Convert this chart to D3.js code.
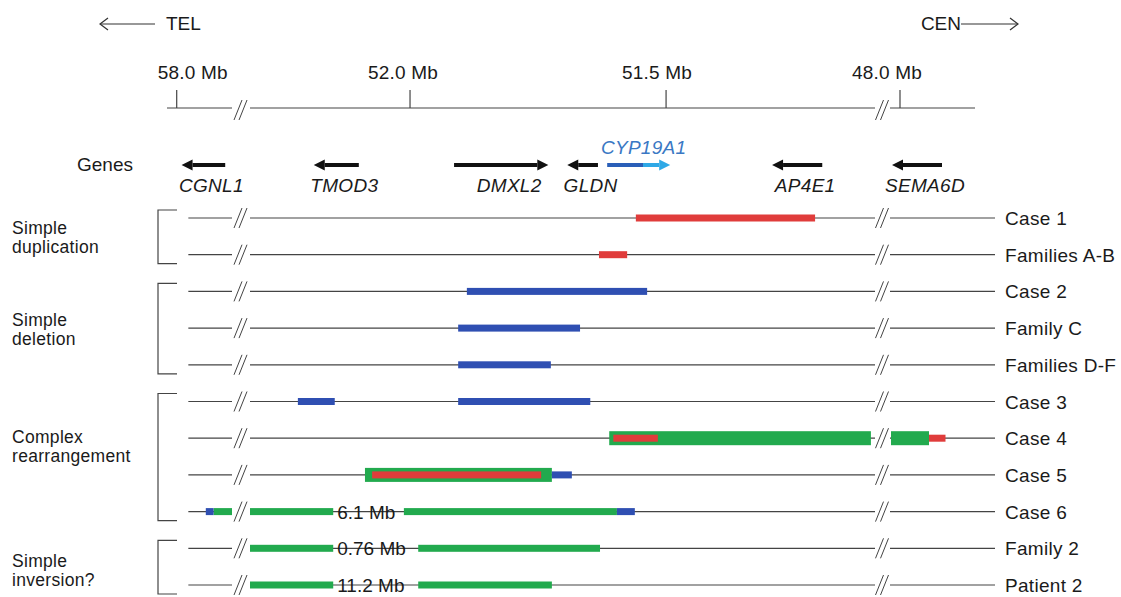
<!DOCTYPE html>
<html lang="en">
<head>
    <meta charset="UTF-8">
    <title>Rearrangements around CYP19A1</title>
    <style>
        body { margin: 0; background: #fff; }
        text { font-family: "Liberation Sans", Arial, sans-serif; fill: #1a1a1a; font-size: 19px; }
    </style>
</head>
<body>

<script src="https://d3js.org/d3.v7.min.js"></script>

<!-- Create a div where the graph will be inserted -->
<div id="my_dataviz"></div>

<script>
    // axis ticks (Mb)
    const tickValues = [58.0, 52.0, 51.5, 48.0];
    const tickLabels = ["58.0 Mb", "52.0 Mb", "51.5 Mb", "48.0 Mb"];

    // genes: tail -> head of the arrow (Mb)
    const geneNames = ["CGNL1", "TMOD3", "DMXL2", "GLDN", "CYP19A1", "AP4E1", "SEMA6D"];
    const geneTail  = [57.50, 52.100, 51.914, 51.633, 51.615, 51.195, 47.58];
    const geneHead  = [57.95, 52.188, 51.730, 51.693, 51.492, 51.293, 48.08];
    const cypSplit = 51.545;

    // rows
    const rowNames = ["Case 1", "Families A-B", "Case 2", "Family C", "Families D-F",
        "Case 3", "Case 4", "Case 5", "Case 6", "Family 2", "Patient 2"];

    const groupLabels = [["Simple", "duplication"], ["Simple", "deletion"],
        ["Complex", "rearrangement"], ["Simple", "inversion?"]];
    const groupFirst = ["Case 1", "Case 2", "Case 3", "Family 2"];
    const groupLast  = ["Families A-B", "Families D-F", "Case 6", "Patient 2"];

    // [row, from, to] in Mb
    const duplications = [
        ["Case 1", 51.559, 51.209],
        ["Families A-B", 51.631, 51.576],
        ["Case 4", 51.603, 51.516],
        ["Case 4", 47.71, 47.545],
        ["Case 5", 52.074, 51.744]
    ];
    const deletions = [
        ["Case 2", 51.889, 51.537],
        ["Family C", 51.906, 51.668],
        ["Families D-F", 51.906, 51.725],
        ["Case 3", 52.219, 52.147],
        ["Case 3", 51.906, 51.648],
        ["Case 5", 51.723, 51.684],
        ["Case 6", 57.70, 57.62],
        ["Case 6", 51.596, 51.561]
    ];
    const inversions = [
        ["Case 4", 51.611, 51.100],
        ["Case 4", 48.09, 47.71],
        ["Case 5", 52.088, 51.723],
        ["Case 6", 57.62, 57.43],
        ["Case 6", 52.3125, 52.150],
        ["Case 6", 52.012, 51.596],
        ["Family 2", 52.3125, 52.150],
        ["Family 2", 51.984, 51.629],
        ["Patient 2", 52.3125, 52.150],
        ["Patient 2", 51.984, 51.723]
    ];
    const sizeRows = ["Case 6", "Family 2", "Patient 2"];
    const sizeLabels = ["6.1 Mb", "0.76 Mb", "11.2 Mb"];

    const width = 1121, height = 597;
    const red = "#e03c3b", blue = "#2f4fb2", green = "#22aa4e";

    const svg = d3.select("#my_dataviz")
      .append("svg")
        .attr("width", width)
        .attr("height", height);

    svg.append("rect").attr("width", width).attr("height", height).attr("fill", "#fff");

    // broken genomic scale: three pieces, with gaps for the // marks
    const x = d3.scaleLinear()
      .domain([58.10, 57.43, 52.3125, 51.092, 48.1, 47.05])
      .range([167, 232, 250, 875, 890, 995]);

    const y = d3.scalePoint()
      .domain(rowNames)
      .range([218, 585]);

    const axisY = 108, geneY = 165;
    const breaksAt = [(x(57.43) + x(52.3125)) / 2, (x(51.092) + x(48.1)) / 2];

    function breakMark(g, cx, cy) {
        [-3, 2].forEach(d => {
            g.append("line")
              .attr("x1", cx + d - 4).attr("y1", cy + 10)
              .attr("x2", cx + d + 4).attr("y2", cy - 10)
              .attr("stroke", "#444").attr("stroke-width", 1);
        });
    }

    // TEL / CEN
    const hdr = svg.append("g");
    hdr.append("line").attr("x1", 100).attr("x2", 155).attr("y1", 24).attr("y2", 24)
      .attr("stroke", "#333").attr("stroke-width", 1.2);
    hdr.append("path").attr("d", "M108,18 L100,24 L108,30").attr("fill", "none")
      .attr("stroke", "#333").attr("stroke-width", 1.2);
    hdr.append("text").attr("x", 166).attr("y", 30).text("TEL");
    hdr.append("text").attr("x", 961).attr("y", 30).attr("text-anchor", "end").text("CEN");
    hdr.append("line").attr("x1", 961).attr("x2", 1018).attr("y1", 24).attr("y2", 24)
      .attr("stroke", "#333").attr("stroke-width", 1.2);
    hdr.append("path").attr("d", "M1010,18 L1018,24 L1010,30").attr("fill", "none")
      .attr("stroke", "#333").attr("stroke-width", 1.2);

    // header axis
    const axisPieces = [[58.10, 57.43], [52.3125, 51.092], [48.1, 47.25]];
    const ax = svg.append("g");
    ax.selectAll("line.piece")
      .data(axisPieces)
      .join("line")
        .attr("class", "piece")
        .attr("x1", d => x(d[0])).attr("x2", d => x(d[1]))
        .attr("y1", axisY).attr("y2", axisY)
        .attr("stroke", "#444").attr("stroke-width", 1.2);
    breaksAt.forEach(b => breakMark(ax, b, axisY + 2));
    ax.selectAll("line.tick")
      .data(tickValues)
      .join("line")
        .attr("class", "tick")
        .attr("x1", d => x(d)).attr("x2", d => x(d))
        .attr("y1", axisY - 18).attr("y2", axisY)
        .attr("stroke", "#444").attr("stroke-width", 1.2);
    const labelShift = [16, -7, -9, -13];
    ax.selectAll("text")
      .data(tickValues)
      .join("text")
        .attr("x", (d, i) => x(d) + labelShift[i])
        .attr("y", 79)
        .attr("text-anchor", "middle")
        .style("letter-spacing", "0.2px")
        .text((d, i) => tickLabels[i]);

    // genes
    const gg = svg.append("g");
    gg.append("text").attr("x", 133).attr("y", geneY + 6).attr("text-anchor", "end").text("Genes");

    geneNames.forEach((name, i) => {
        const t = x(geneTail[i]), h = x(geneHead[i]);
        const dir = h > t ? 1 : -1;
        const isCyp = name === "CYP19A1";
        const dark = isCyp ? "#2a5fb8" : "#111";
        const light = isCyp ? "#2ea8e6" : "#111";
        const neck = h - dir * 11;
        if (isCyp) {
            gg.append("line").attr("x1", t).attr("x2", x(cypSplit))
              .attr("y1", geneY).attr("y2", geneY)
              .attr("stroke", dark).attr("stroke-width", 4);
            gg.append("line").attr("x1", x(cypSplit)).attr("x2", neck)
              .attr("y1", geneY).attr("y2", geneY)
              .attr("stroke", light).attr("stroke-width", 4);
        } else {
            gg.append("line").attr("x1", t).attr("x2", neck)
              .attr("y1", geneY).attr("y2", geneY)
              .attr("stroke", dark).attr("stroke-width", 4);
        }
        gg.append("path")
          .attr("d", `M${h},${geneY} L${neck},${geneY - 5.5} L${neck},${geneY + 5.5} Z`)
          .attr("fill", light);

        const mid = (t + h) / 2 + 8;
        gg.append("text")
          .attr("x", isCyp ? mid - 3 : mid)
          .attr("y", isCyp ? geneY - 11 : geneY + 27)
          .attr("text-anchor", "middle")
          .style("font-style", "italic")
          .style("letter-spacing", "0.3px")
          .style("fill", isCyp ? "#3a78c4" : "#1a1a1a")
          .text(name);
    });

    // row backbones
    const rowPieces = [[57.88, 57.43], [52.3125, 51.092], [48.1, 47.05]];
    const rows = svg.append("g");
    rowNames.forEach(r => {
        rows.selectAll(null)
          .data(rowPieces)
          .join("line")
            .attr("x1", d => x(d[0])).attr("x2", d => x(d[1]))
            .attr("y1", y(r)).attr("y2", y(r))
            .attr("stroke", "#444").attr("stroke-width", 1.2);
        breaksAt.forEach(b => breakMark(rows, b, y(r)));
    });
    rows.selectAll("text")
      .data(rowNames)
      .join("text")
        .attr("x", 1005)
        .attr("y", d => y(d) + 7)
        .style("letter-spacing", "0.3px")
        .text(d => d);

    // bars: inversions under, deletions and duplications on top
    const dupRows = new Set(duplications.map(d => d[0]));
    const bars = svg.append("g");
    function drawBars(data, color, thick) {
        bars.selectAll(null)
          .data(data)
          .join("rect")
            .attr("x", d => Math.min(x(d[1]), x(d[2])))
            .attr("width", d => Math.abs(x(d[2]) - x(d[1])))
            .attr("y", d => y(d[0]) - thick(d) / 2)
            .attr("height", d => thick(d))
            .attr("fill", color);
    }
    drawBars(inversions, green, d => dupRows.has(d[0]) ? 14 : 7);
    drawBars(deletions, blue, () => 7);
    drawBars(duplications, red, () => 7);

    // size of inversion written in the gap
    bars.selectAll("text")
      .data(sizeRows)
      .join("text")
        .attr("x", x(52.150) + 4)
        .attr("y", d => y(d) + 7)
        .text((d, i) => sizeLabels[i]);

    // group brackets and labels (two tight lines)
    const groupShift = [0, 0, -11, 3];
    const gr = svg.append("g");
    groupLabels.forEach((lab, i) => {
        const y0 = y(groupFirst[i]) - 8, y1 = y(groupLast[i]) + 9;
        gr.append("path")
          .attr("d", `M177,${y0} H158 V${y1} H177`)
          .attr("fill", "none").attr("stroke", "#444").attr("stroke-width", 1.2);
        const mid = (y0 + y1) / 2 + groupShift[i];
        lab.forEach((s, j) => {
            gr.append("text")
              .attr("x", 12)
              .attr("y", mid - 3 + j * 19)
              .style("font-size", "17.5px")
              .style("letter-spacing", "0.3px")
              .text(s);
        });
    });
</script>

</body>
</html>
